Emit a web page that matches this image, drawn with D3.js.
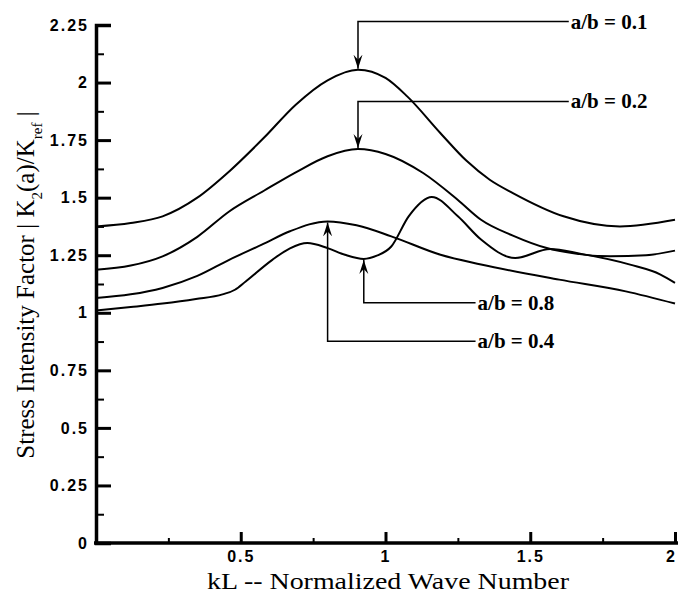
<!DOCTYPE html>
<html>
<head>
<meta charset="utf-8">
<script src="https://cdn.jsdelivr.net/npm/d3@7"></script>
<style>
  body { margin: 0; background: #fff; }
  svg { display: block; }
</style>
</head>
<body>
<div id="chart"></div>
<script>
// values, kL vs |K2(a)/Kref|
const kl01 = [0, 0.12, 0.23, 0.35, 0.46, 0.58, 0.69, 0.8, 0.905, 1.0, 1.075, 1.19, 1.28, 1.36, 1.44, 1.615, 1.81, 2.0];
const k01  = [1.375, 1.39, 1.419, 1.5, 1.614, 1.76, 1.904, 2.01, 2.056, 2.02, 1.94, 1.78, 1.66, 1.578, 1.52, 1.419, 1.375, 1.404];

const kl02 = [0, 0.12, 0.23, 0.35, 0.46, 0.58, 0.69, 0.8, 0.905, 1.0, 1.13, 1.25, 1.33, 1.44, 1.557, 1.65, 1.776, 1.9, 2.0];
const k02  = [1.187, 1.205, 1.245, 1.33, 1.44, 1.53, 1.61, 1.68, 1.711, 1.69, 1.607, 1.49, 1.404, 1.335, 1.281, 1.258, 1.245, 1.25, 1.27];

const kl04 = [0, 0.12, 0.23, 0.35, 0.46, 0.58, 0.67, 0.8, 0.9, 1.02, 1.19, 1.33, 1.6, 1.83, 2.0];
const k04  = [1.064, 1.08, 1.108, 1.16, 1.23, 1.3, 1.354, 1.397, 1.38, 1.332, 1.252, 1.21, 1.144, 1.093, 1.04];

const kl08 = [0, 0.12, 0.23, 0.345, 0.437, 0.48, 0.517, 0.609, 0.67, 0.73, 0.8, 0.86, 0.925, 0.97, 1.02, 1.08, 1.16, 1.25, 1.33, 1.448, 1.569, 1.672, 1.845, 1.95, 2.0];
const k08  = [1.01, 1.025, 1.04, 1.06, 1.08, 1.1, 1.136, 1.23, 1.28, 1.303, 1.281, 1.252, 1.234, 1.248, 1.288, 1.419, 1.503, 1.419, 1.318, 1.238, 1.277, 1.257, 1.209, 1.166, 1.13];

// annotation: arrow target (kL, K), leader level, label start kL
const noteNames  = ['a/b = 0.1', 'a/b = 0.2', 'a/b = 0.8', 'a/b = 0.4'];
const noteKL     = [0.905, 0.905, 0.925, 0.80];
const noteK      = [2.056, 1.711, 1.234, 1.397];
const noteLevel  = [2.265, 1.918, 1.044, 0.876];
const noteTextKL = [1.64, 1.64, 1.318, 1.318];

const xMajor = [0.5, 1, 1.5, 2];
const xMinor = [0.25, 0.75, 1.25, 1.75];
const yMajor = d3.range(0, 2.26, 0.25);
const yMinor = d3.range(0.125, 2.25, 0.25);

const width = 678, height = 600;
const svg = d3.select('#chart').append('svg')
    .attr('width', width)
    .attr('height', height);

const xScale = d3.scaleLinear().domain([0, 2]).range([96, 675]);
const yScale = d3.scaleLinear().domain([0, 2.25]).range([543, 25]);

const tickFont = '"Liberation Sans", Arial, sans-serif';
const serif = '"Liberation Serif", "Times New Roman", serif';

svg.append('defs').append('marker')
    .attr('id', 'arrow')
    .attr('viewBox', '-14 -5 15 10')
    .attr('refX', 0)
    .attr('refY', 0)
    .attr('markerWidth', 15)
    .attr('markerHeight', 10)
    .attr('markerUnits', 'userSpaceOnUse')
    .attr('orient', 'auto')
    .append('path')
    .attr('d', 'M0,0 L-14,-4.5 L-9,0 L-14,4.5 Z')
    .attr('fill', '#000');

// curves
const line = d3.line()
    .x(d => xScale(d[0]))
    .y(d => yScale(d[1]))
    .curve(d3.curveMonotoneX);

const allSeries = [
    d3.zip(kl01, k01),
    d3.zip(kl02, k02),
    d3.zip(kl04, k04),
    d3.zip(kl08, k08)
];

svg.append('g')
    .selectAll('path')
    .data(allSeries)
    .join('path')
    .attr('class', (d, i) => 'curve s' + i)
    .attr('d', d => line(d))
    .attr('fill', 'none')
    .attr('stroke', '#000')
    .attr('stroke-width', 2);

// y axis
const yAxis = svg.append('g')
    .attr('transform', `translate(${xScale(0)},0)`)
    .call(d3.axisLeft(yScale).tickValues(yMajor).tickSize(-15).tickPadding(7)
        .tickFormat(d => d3.format('')(+d.toFixed(2))));
yAxis.select('.domain').attr('stroke-width', 3.5);
yAxis.selectAll('.tick line').attr('stroke-width', 3);
yAxis.selectAll('.tick text')
    .attr('font-family', tickFont)
    .attr('font-weight', 'bold')
    .attr('font-size', 16)
    .attr('letter-spacing', 2)
    .attr('fill', '#000');

svg.append('g')
    .attr('transform', `translate(${xScale(0)},0)`)
    .call(d3.axisLeft(yScale).tickValues(yMinor).tickSize(-8).tickFormat(''))
    .call(g => g.select('.domain').remove())
    .selectAll('.tick line').attr('stroke-width', 2);

// x axis
const xAxis = svg.append('g')
    .attr('transform', `translate(0,${yScale(0)})`)
    .call(d3.axisBottom(xScale).tickValues(xMajor).tickSize(-11).tickPadding(8)
        .tickFormat(d3.format('')));
xAxis.select('.domain')
    .attr('d', `M${xScale(0) - 2},0H${width}`)
    .attr('stroke-width', 3.5);
xAxis.selectAll('.tick line').attr('stroke-width', 3);
xAxis.selectAll('.tick text')
    .attr('font-family', tickFont)
    .attr('font-weight', 'bold')
    .attr('font-size', 16)
    .attr('letter-spacing', 2)
    .attr('dx', d => d === 2 ? -4 : 0)
    .attr('fill', '#000');

svg.append('g')
    .attr('transform', `translate(0,${yScale(0)})`)
    .call(d3.axisBottom(xScale).tickValues(xMinor).tickSize(-5).tickFormat(''))
    .call(g => g.select('.domain').remove())
    .selectAll('.tick line').attr('stroke-width', 2);

// axis titles
svg.append('text')
    .attr('x', 388)
    .attr('y', 589)
    .attr('text-anchor', 'middle')
    .attr('font-family', serif)
    .attr('font-size', 23)
    .attr('textLength', 362)
    .attr('lengthAdjust', 'spacingAndGlyphs')
    .text('kL -- Normalized Wave Number');

const yTitle = svg.append('text')
    .attr('transform', 'translate(34,285) rotate(-90)')
    .attr('text-anchor', 'middle')
    .attr('font-family', serif)
    .attr('font-size', 25);
yTitle.append('tspan').text('Stress Intensity Factor | K');
yTitle.append('tspan').attr('baseline-shift', 'sub').attr('font-size', 15).text('2');
yTitle.append('tspan').text('(a)/K');
yTitle.append('tspan').attr('baseline-shift', 'sub').attr('font-size', 15).text('ref');
yTitle.append('tspan').text(' |');

// annotations
const notes = d3.range(noteNames.length).map(i => ({
    name: noteNames[i], kl: noteKL[i], k: noteK[i], level: noteLevel[i], textKL: noteTextKL[i]
}));

const noteG = svg.append('g').selectAll('g')
    .data(notes)
    .join('g');

noteG.append('path')
    .attr('d', d => {
        const x0 = xScale(d.kl);
        const yl = yScale(d.level);
        const yt = yScale(d.k) + (d.level > d.k ? -1 : 1);
        return `M${xScale(d.textKL) - 2},${yl}H${x0}V${yt}`;
    })
    .attr('fill', 'none')
    .attr('stroke', '#000')
    .attr('stroke-width', 1.5)
    .attr('marker-end', 'url(#arrow)');

noteG.append('text')
    .attr('x', d => xScale(d.textKL))
    .attr('y', d => yScale(d.level) + 7)
    .attr('font-family', serif)
    .attr('font-weight', 'bold')
    .attr('font-size', 21)
    .text(d => d.name);
</script>
</body>
</html>
